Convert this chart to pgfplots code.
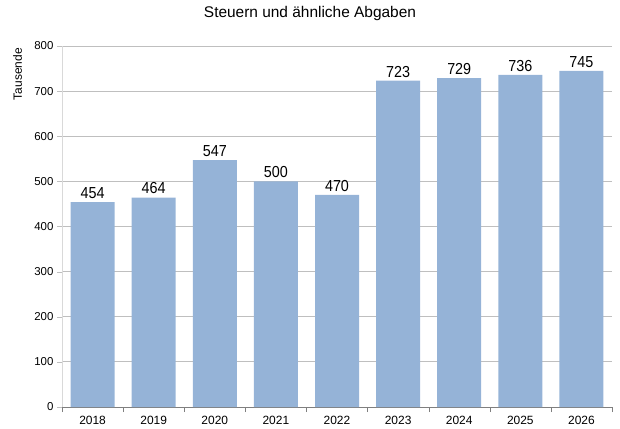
\documentclass[border=0pt]{standalone}
\usepackage{fontspec}
\setmainfont{Liberation Sans}
\newfontfamily\narrowfont[FakeStretch=0.9]{Liberation Sans}
\usepackage{pgfplots}
\pgfplotsset{compat=1.18}
\definecolor{barblue}{HTML}{95B3D7}
\definecolor{gridgray}{HTML}{BFBFBF}
\definecolor{axisgray}{HTML}{7F7F7F}
\begin{document}
\begin{tikzpicture}
\begin{axis}[
    scale only axis,
    width=550bp, height=361bp,
    ybar, bar width=44bp,
    xmin=-0.5, xmax=8.5,
    ymin=0, ymax=800,
    ytick={0,100,...,800},
    xtick={0,...,8},
    xticklabels={2018,2019,2020,2021,2022,2023,2024,2025,2026},
    minor xtick={-0.5,0.5,...,8.5},
    major x tick style={draw=none},
    minor x tick style={draw=axisgray},
    minor tick length=5bp,
    major tick length=5bp,
    tick align=outside,
    ytick style={draw=gridgray},
    ymajorgrids,
    grid style={draw=gridgray, line width=0.8pt},
    axis x line*=bottom,
    axis y line*=left,
    x axis line style={draw=axisgray, line width=0.8pt, -},
    y axis line style={draw=gridgray!60, -},
    yticklabel style={font=\fontsize{11.5}{13}\selectfont},
    xticklabel style={font=\fontsize{12}{14}\selectfont, yshift=-1bp},
    /pgf/number format/assume math mode=true,
    nodes near coords,
    every node near coord/.append style={font=\narrowfont\fontsize{16}{18}\selectfont, black},
    title={Steuern und ähnliche Abgaben},
    title style={font=\fontsize{15.5}{17}\selectfont, at={(rel axis cs:0.5,1)},
        anchor=base, xshift=-27bp, yshift=23bp},
    clip=false,
]
\addplot[fill=barblue, draw=none] coordinates {
    (0,454) (1,464) (2,547) (3,500) (4,470) (5,723) (6,729) (7,736) (8,745)};
\coordinate (o) at (rel axis cs:0,0);
\coordinate (e) at (rel axis cs:1,1);
\node[rotate=90, anchor=north east, inner sep=0pt, font=\fontsize{12}{14}\selectfont]
    at ([xshift=-49bp, yshift=-2bp]rel axis cs:0,1) {Tausende};
\end{axis}
\path[use as bounding box] ([shift={(-62bp,-18bp)}]o) rectangle ([shift={(8bp,46bp)}]e);
\end{tikzpicture}
\end{document}
